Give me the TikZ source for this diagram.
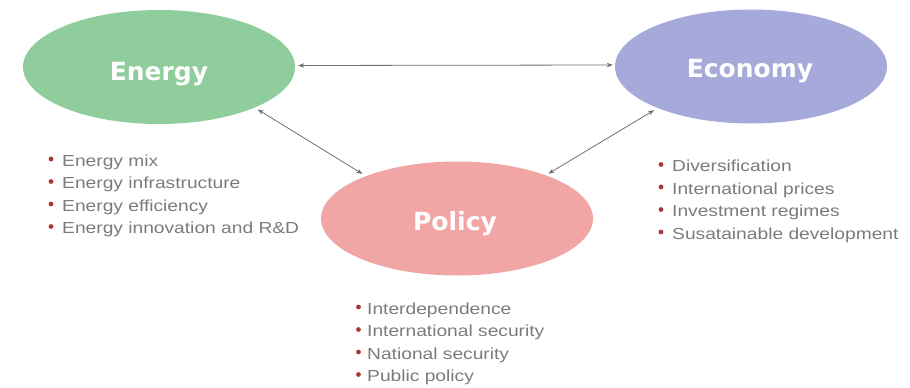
\documentclass[tikz,border=0pt]{standalone}
\usepackage{fontspec}
\setmainfont{Liberation Sans}
\newfontfamily\titlefont{DejaVu Sans}
\newfontfamily\listfont{Liberation Sans}[FakeStretch=1.2]
\usetikzlibrary{arrows.meta,shapes.geometric}
\definecolor{egreen}{HTML}{8FCE9C}
\definecolor{elav}{HTML}{A6AADA}
\definecolor{epink}{HTML}{F2A5A5}
\definecolor{agray}{HTML}{6E6E6E}
\definecolor{tgray}{HTML}{7B7B7B}
\definecolor{bred}{HTML}{A83838}
\tikzset{
  blob/.style={ellipse, minimum width=272pt, minimum height=114pt, inner sep=0pt, draw=none},
  ttl/.style={anchor=base, inner sep=0pt, text=white, font=\titlefont\bfseries\fontsize{25}{30}\selectfont},
  lst/.style={anchor=base west, inner sep=0pt, text=tgray, font=\listfont\fontsize{16}{19}\selectfont},
  conn/.style={draw=agray, line width=0.8pt, {Stealth[length=6pt,width=4.5pt]}-{Stealth[length=6pt,width=4.5pt]}}
}
\newcommand\litem[5]{%
  \fill[bred] (#1-#5,#2-7) circle[radius=2.4pt];
  \node[lst] (#3) at (#1,#2) {#4};}
\begin{document}
\begin{tikzpicture}[x=1pt,y=-1pt]
\useasboundingbox (0,0) rectangle (910,388);
\node[blob, fill=egreen] (energy) at (159,67) {};
\node[blob, fill=elav] (economy) at (751,66.5) {};
\node[blob, fill=epink] (policy) at (457,218.5) {};
\node[ttl] (tenergy) at (159,80) {Energy};
\node[ttl] (teconomy) at (750,77) {Economy};
\node[ttl] (tpolicy) at (455,230) {Policy};

\draw[conn, shorten <=3pt, shorten >=2pt] ([yshift=1.5pt]energy.east) -- ([yshift=1.5pt]economy.west);
\draw[conn, shorten <=3.5pt, shorten >=4pt] (energy.-23) -- (policy.155.8);
\draw[conn, shorten <=4pt, shorten >=3pt] (economy.-156) -- (policy.26);

\litem{62}{166}{e1}{Energy mix}{11}
\litem{62}{188.5}{e2}{Energy infrastructure}{11}
\litem{62}{211}{e3}{Energy efficiency}{11}
\litem{62}{233.5}{e4}{Energy innovation and R\&D}{11}

\litem{672}{171.5}{c1}{Diversification}{11}
\litem{672}{194}{c2}{International prices}{11}
\litem{672}{216.5}{c3}{Investment regimes}{11}
\litem{672}{239}{c4}{Susatainable development}{11}

\litem{367}{314}{p1}{Interdependence}{8.5}
\litem{367}{336.5}{p2}{International security}{8.5}
\litem{367}{359}{p3}{National security}{8.5}
\litem{367}{381.5}{p4}{Public policy}{8.5}
\end{tikzpicture}
\end{document}
